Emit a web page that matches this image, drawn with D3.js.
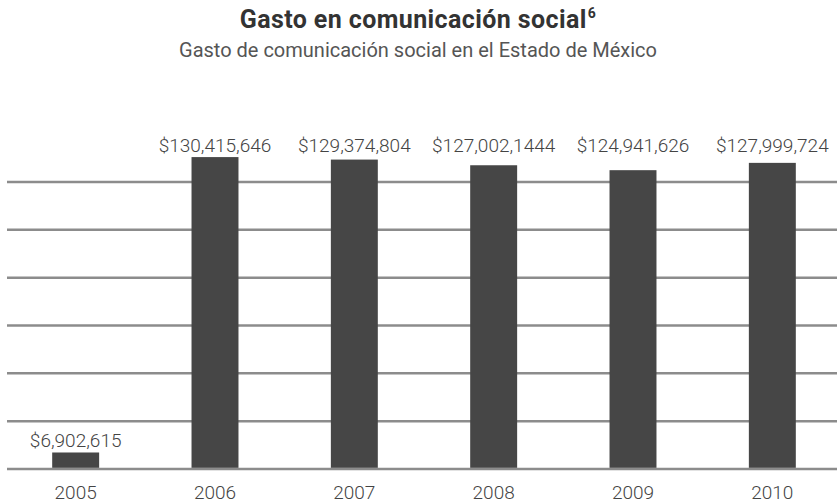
<!DOCTYPE html>
<html><head><meta charset="utf-8">
<script src="https://cdn.jsdelivr.net/npm/d3@7"></script>
<style>body{margin:0;background:#fff;}svg{display:block;font-family:Roboto,"Noto Sans",sans-serif;}</style>
</head><body><svg id="c" width="837" height="504"></svg>
<script>
const years = ["2005","2006","2007","2008","2009","2010"];
const values = [6902615, 130415646, 129374804, 127002144, 124941626, 127999724];
const valueLabels = ["$6,902,615","$130,415,646","$129,374,804","$127,002,1444","$124,941,626","$127,999,724"];
const gridTicks = [0, 20e6, 40e6, 60e6, 80e6, 100e6, 120e6];
const title = "Gasto en comunicación social";
const titleSup = "6";
const subtitle = "Gasto de comunicación social en el Estado de México";

const svg = d3.select("#c");
const x = d3.scaleBand().domain(years).range([6, 842]).paddingInner(0.663).paddingOuter(0.3315);
const y = d3.scaleLinear().domain([0, 120e6]).range([469, 182]);

svg.append("g").selectAll("line").data(gridTicks).join("line")
  .attr("x1", 7).attr("x2", 837)
  .attr("y1", d => y(d)).attr("y2", d => y(d))
  .attr("stroke", "#8c8c8c").attr("stroke-width", 2.5);

svg.append("g").selectAll("rect").data(values).join("rect")
  .attr("x", (d,i) => x(years[i])).attr("width", x.bandwidth())
  .attr("y", d => y(d)).attr("height", d => y(0) - y(d) - 1.2)
  .attr("fill", "#464646");

const labelTop = y(d3.max(values)) - 5;
svg.append("g").selectAll("text").data(values).join("text")
  .attr("x", (d,i) => x(years[i]) + x.bandwidth()/2)
  .attr("y", d => (y(d) - 5 - labelTop < 20) ? labelTop : y(d) - 5)
  .attr("text-anchor", "middle").attr("font-size", 19).attr("font-weight", 300).attr("fill", "#444")
  .text((d,i) => valueLabels[i]);

svg.append("g").selectAll("text").data(years).join("text")
  .attr("x", d => x(d) + x.bandwidth()/2).attr("y", 499)
  .attr("text-anchor", "middle").attr("font-size", 19).attr("font-weight", 300).attr("fill", "#444")
  .text(d => d);

const t = svg.append("text").attr("x", 418).attr("y", 28).attr("text-anchor", "middle")
  .attr("font-size", 25).attr("font-weight", "bold").attr("fill", "#333").attr("letter-spacing", 0.4);
t.append("tspan").text(title);
t.append("tspan").attr("font-size", 14).attr("dy", -10).attr("dx", 1).text(titleSup);

svg.append("text").attr("x", 418).attr("y", 57).attr("text-anchor", "middle")
  .attr("font-size", 20).attr("fill", "#555").text(subtitle);
</script></body></html>
